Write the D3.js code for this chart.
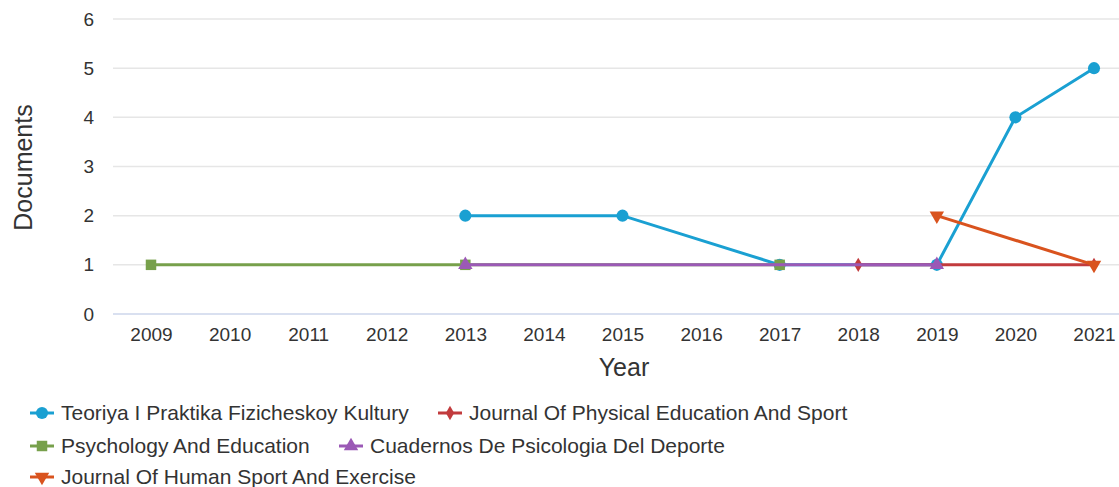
<!DOCTYPE html>
<html>
<head>
<meta charset="utf-8">
<script src="https://cdn.jsdelivr.net/npm/d3@7"></script>
<style>
  body { margin: 0; background: #fff; }
  svg { font-family: "Liberation Sans", Arial, sans-serif; }
</style>
</head>
<body>
<svg id="chart" width="1119" height="487"></svg>
<script>
// data
var years = ["2009", "2010", "2011", "2012", "2013", "2014", "2015", "2016", "2017", "2018", "2019", "2020", "2021"];
var yTicks = [0, 1, 2, 3, 4, 5, 6];

var seriesNames = [
  "Teoriya I Praktika Fizicheskoy Kultury",
  "Journal Of Physical Education And Sport",
  "Psychology And Education",
  "Cuadernos De Psicologia Del Deporte",
  "Journal Of Human Sport And Exercise"
];
var seriesColors = ["#1aa0d2", "#c23b3d", "#77a04b", "#9b59b6", "#d9531e"];
var seriesSymbols = ["circle", "diamond", "square", "triangle", "triangleDown"];

var teoriyaYears = ["2013", "2015", "2017", "2019", "2020", "2021"];
var teoriyaValues = [2, 2, 1, 1, 4, 5];
var physEdYears = ["2018", "2021"];
var physEdValues = [1, 1];
var psychEdYears = ["2009", "2013", "2017"];
var psychEdValues = [1, 1, 1];
var cuadernosYears = ["2013", "2019"];
var cuadernosValues = [1, 1];
var humanSportYears = ["2019", "2021"];
var humanSportValues = [2, 1];

var seriesYears = [teoriyaYears, physEdYears, psychEdYears, cuadernosYears, humanSportYears];
var seriesValues = [teoriyaValues, physEdValues, psychEdValues, cuadernosValues, humanSportValues];

var svg = d3.select("#chart");

var plotLeft = 113, plotRight = 1119, plotTop = 19, plotBottom = 314;

var xScale = d3.scalePoint()
  .domain(years)
  .range([151, 1094]);
var yScale = d3.scaleLinear()
  .domain([0, 6])
  .range([plotBottom, plotTop]);

// grid lines
svg.append("g")
  .selectAll("line")
  .data(yTicks.filter(d => d > 0))
  .enter().append("line")
  .attr("x1", plotLeft)
  .attr("x2", plotRight)
  .attr("y1", d => yScale(d))
  .attr("y2", d => yScale(d))
  .attr("stroke", "#e6e6e6")
  .attr("stroke-width", 1.5);

// y axis labels
var yAxis = svg.append("g")
  .attr("transform", "translate(" + plotLeft + ",0)")
  .call(d3.axisLeft(yScale).tickValues(yTicks).tickFormat(d3.format("d")).tickSize(0).tickPadding(19));
yAxis.select(".domain").remove();
yAxis.selectAll("text")
  .attr("font-size", 19)
  .attr("fill", "#333")
  .attr("font-family", "Liberation Sans, Arial, sans-serif");

// x axis
var xAxis = svg.append("g")
  .attr("transform", "translate(0," + plotBottom + ")")
  .call(d3.axisBottom(xScale).tickSize(0).tickPadding(14));
xAxis.select(".domain").remove();
xAxis.selectAll("text")
  .attr("font-size", 19)
  .attr("fill", "#333")
  .attr("font-family", "Liberation Sans, Arial, sans-serif");
svg.append("line")
  .attr("x1", plotLeft)
  .attr("x2", plotRight)
  .attr("y1", plotBottom)
  .attr("y2", plotBottom)
  .attr("stroke", "#ccd6eb")
  .attr("stroke-width", 1.5);

// axis titles
svg.append("text")
  .attr("x", 624)
  .attr("y", 376)
  .attr("text-anchor", "middle")
  .attr("font-size", 25)
  .attr("fill", "#333")
  .text("Year");
svg.append("text")
  .attr("transform", "rotate(-90)")
  .attr("x", -(plotTop + plotBottom) / 2 - 1)
  .attr("y", 32)
  .attr("text-anchor", "middle")
  .attr("font-size", 25)
  .attr("fill", "#333")
  .text("Documents");

var symbolTypes = {
  circle: d3.symbolCircle,
  diamond: d3.symbolDiamond,
  square: d3.symbolSquare,
  triangle: d3.symbolTriangle
};

function drawMarker(g, type, x, y, color) {
  if (type === "triangleDown") {
    g.append("path")
      .attr("d", d3.symbol().type(d3.symbolTriangle).size(90)())
      .attr("transform", "translate(" + x + "," + y + ") rotate(180)")
      .attr("fill", color);
  } else {
    var size = type === "diamond" ? 60 : (type === "square" ? 110 : (type === "circle" ? 115 : 90));
    g.append("path")
      .attr("d", d3.symbol().type(symbolTypes[type]).size(size)())
      .attr("transform", "translate(" + x + "," + y + ")")
      .attr("fill", color);
  }
}

var line = d3.line()
  .x(d => xScale(d[0]))
  .y(d => yScale(d[1]));

// draw series in order (later ones on top)
for (var i = 0; i < seriesNames.length; i++) {
  var pts = seriesYears[i].map((yr, j) => [yr, seriesValues[i][j]]);
  var g = svg.append("g");
  g.append("path")
    .datum(pts)
    .attr("d", line)
    .attr("fill", "none")
    .attr("stroke", seriesColors[i])
    .attr("stroke-width", 3);
  pts.forEach(function (p) {
    drawMarker(g, seriesSymbols[i], xScale(p[0]), yScale(p[1]), seriesColors[i]);
  });
}

// legend
var legendItems = [
  { idx: 0, x: 30, y: 413 },
  { idx: 1, x: 438, y: 413 },
  { idx: 2, x: 30, y: 446 },
  { idx: 3, x: 339, y: 446 },
  { idx: 4, x: 30, y: 477 }
];
legendItems.forEach(function (item) {
  var g = svg.append("g");
  var c = seriesColors[item.idx];
  g.append("line")
    .attr("x1", item.x)
    .attr("x2", item.x + 24)
    .attr("y1", item.y)
    .attr("y2", item.y)
    .attr("stroke", c)
    .attr("stroke-width", 3);
  drawMarker(g, seriesSymbols[item.idx], item.x + 12, item.y, c);
  g.append("text")
    .attr("x", item.x + 31)
    .attr("y", item.y + 7)
    .attr("font-size", 21)
    .attr("fill", "#333")
    .text(seriesNames[item.idx]);
});
</script>
</body>
</html>
